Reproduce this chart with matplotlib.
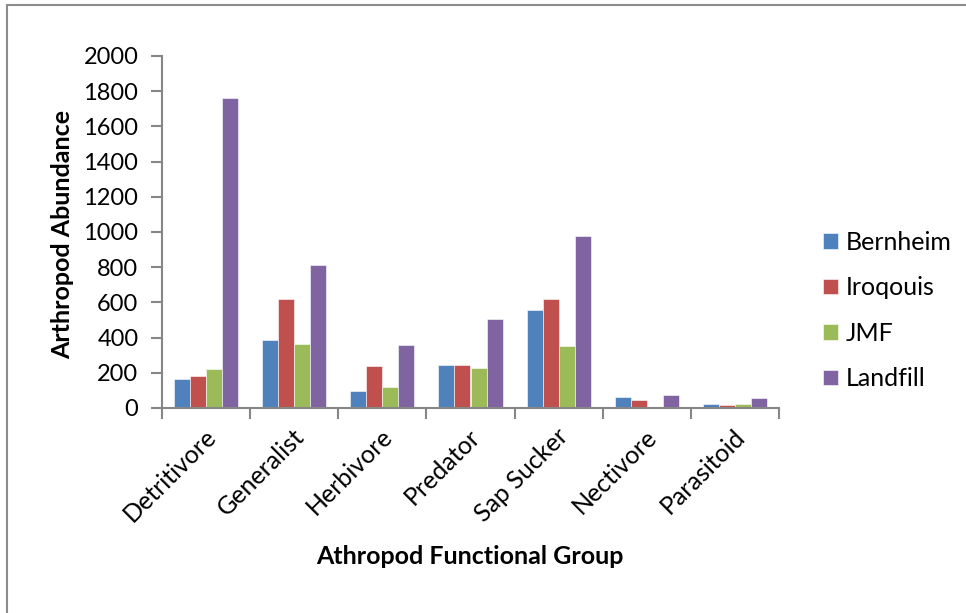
import matplotlib.pyplot as plt
import matplotlib.transforms as mtransforms
import numpy as np
from matplotlib.patches import Rectangle

# values
groups = ["Detritivore", "Generalist", "Herbivore", "Predator",
          "Sap Sucker", "Nectivore", "Parasitoid"]
bernheim = [162, 385, 99, 247, 556, 65, 23]
iroqouis = [183, 617, 240, 242, 619, 44, 19]
jmf = [220, 362, 118, 225, 354, 0, 24]
landfill = [1762, 812, 356, 505, 979, 76, 57]

sites = ["Bernheim", "Iroqouis", "JMF", "Landfill"]
colors = ["#4F81BD", "#C0504D", "#9BBB59", "#8064A2"]
y_ticks = list(range(0, 2001, 200))

plt.rcParams["font.family"] = ["Lato", "DejaVu Sans"]

fig = plt.figure(figsize=(9.66, 6.13), dpi=100)
ax = fig.add_axes([162 / 966, 1 - 408 / 613, (779 - 162) / 966, (408 - 56) / 613])

# grey frame like the pasted chart area
fig.patches.append(Rectangle((7 / 966, -0.1), 1.1, 1 - 5 / 613 + 0.1,
                             transform=fig.transFigure, fill=False,
                             edgecolor="#8c8c8c", linewidth=1.5))

x = np.arange(len(groups))
w = 0.182
for i, (vals, name, c) in enumerate(zip([bernheim, iroqouis, jmf, landfill], sites, colors)):
    ax.bar(x + (i - 1.5) * w, vals, width=w, color=c, label=name,
           edgecolor="white", linewidth=0.4)

ax.set_xlim(-0.5, len(groups) - 0.5)
ax.set_ylim(0, 2000)
ax.set_yticks(y_ticks)
ax.tick_params(axis="y", labelsize=17, length=8, width=1.5, color="#868686", pad=9)

# category ticks sit between the groups
ax.set_xticks(np.arange(-0.5, len(groups)), minor=False)
ax.set_xticklabels([])
ax.set_xticks(x, minor=True)
ax.set_xticklabels(groups, minor=True, rotation=45, ha="right",
                   rotation_mode="anchor", fontsize=18)
ax.tick_params(axis="x", which="major", length=8, width=1.5, color="#868686")
ax.tick_params(axis="x", which="minor", length=0, pad=12)
shift = mtransforms.ScaledTranslation(-2 / 100, 0, fig.dpi_scale_trans)
for lab in ax.get_xticklabels(minor=True):
    lab.set_transform(lab.get_transform() + shift)

for s in ["top", "right"]:
    ax.spines[s].set_visible(False)
for s in ["left", "bottom"]:
    ax.spines[s].set_color("#868686")
    ax.spines[s].set_linewidth(1.5)

fig.text(63 / 966, 1 - 235 / 613, "Arthropod Abundance", fontsize=18,
         fontweight="bold", rotation=90, ha="center", va="center")
fig.text(470 / 966, 1 - 557 / 613, "Athropod Functional Group", fontsize=18,
         fontweight="bold", ha="center", va="center")

fig.legend(loc="center left", bbox_to_anchor=(823 / 966, 1 - 310.5 / 613),
           frameon=False, fontsize=18, handlelength=0.6, handleheight=0.6,
           handletextpad=0.3, labelspacing=0.9, borderpad=0, borderaxespad=0)

fig.savefig("out.png", dpi=100)
